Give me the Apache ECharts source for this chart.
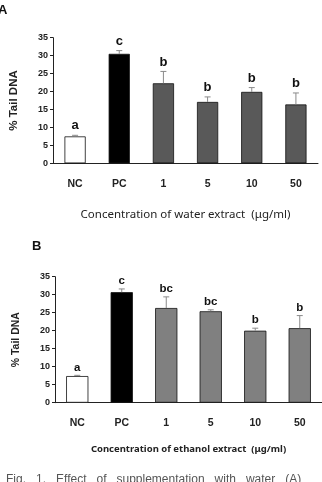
<!DOCTYPE html>
<html>
<head>
<meta charset="utf-8">
<script src="https://cdn.jsdelivr.net/npm/echarts@6/dist/echarts.min.js"></script>
<style>
  html, body { margin: 0; padding: 0; background: #fff; }
  #chart { width: 322px; height: 482px; }
</style>
</head>
<body>
<div id="chart"></div>
<script>
// categories and tick labels
var categories = ['NC', 'PC', '1', '5', '10', '50'];
var yTicks = [0, 5, 10, 15, 20, 25, 30, 35];

// panel A: water extract
var waterMean = [7.5, 30.5, 22.3, 17.1, 19.9, 16.4];
var waterErr = [0.3, 0.9, 3.3, 1.4, 1.2, 3.2];
var waterLetters = ['a', 'c', 'b', 'b', 'b', 'b'];

// panel B: ethanol extract
var ethanolMean = [7.4, 30.7, 26.3, 25.4, 20.0, 20.7];
var ethanolErr = [0.2, 0.9, 3.1, 0.4, 0.7, 3.5];
var ethanolLetters = ['a', 'c', 'bc', 'bc', 'b', 'b'];

var chart = echarts.init(document.getElementById('chart'));

function barColors(restColor) {
  return function (p) {
    if (p.dataIndex === 0) return '#ffffff';
    if (p.dataIndex === 1) return '#000000';
    return restColor;
  };
}

// error bar (upper only) + significance letter
function errRender(mean, err, letters, fontSize, gap) {
  return function (params, api) {
    var i = api.value(0);
    var base = api.coord([i, mean[i]]);
    var top = api.coord([i, mean[i] + err[i]]);
    return {
      type: 'group',
      children: [
        { type: 'line', shape: { x1: base[0], y1: base[1], x2: top[0], y2: top[1] },
          style: { stroke: '#8a8a8a', lineWidth: 1 } },
        { type: 'line', shape: { x1: top[0] - 3, y1: top[1], x2: top[0] + 3, y2: top[1] },
          style: { stroke: '#8a8a8a', lineWidth: 1 } },
        { type: 'text', style: { text: letters[i], x: top[0], y: top[1] - gap,
          align: 'center', verticalAlign: 'bottom', fill: '#111',
          font: 'bold ' + fontSize + 'px "Liberation Sans", Arial, sans-serif' } }
      ]
    };
  };
}

function yAxisCfg(gridIndex, nameGap, nameSize) {
  return {
    gridIndex: gridIndex, type: 'value', min: 0, max: 35, interval: 5,
    name: '% Tail DNA', nameLocation: 'middle', nameGap: nameGap,
    nameTextStyle: { fontFamily: 'Liberation Sans', fontWeight: 'bold', fontSize: nameSize, color: '#222' },
    axisLine: { show: true, lineStyle: { color: '#222', width: 1 } },
    axisTick: { show: true, length: 3, lineStyle: { color: '#222' } },
    axisLabel: { margin: 5, fontFamily: 'Liberation Sans', fontWeight: 'bold', fontSize: 9, color: '#222',
      formatter: function (v) { return yTicks.indexOf(v) >= 0 ? String(v) : ''; } },
    splitLine: { show: false }
  };
}

function xAxisCfg(gridIndex, title, titleBold, titleSize, nameGap) {
  return {
    gridIndex: gridIndex, type: 'category', data: categories,
    name: title, nameLocation: 'middle', nameGap: nameGap,
    nameTextStyle: { fontFamily: 'Noto Sans', fontWeight: titleBold ? 'bold' : 'normal', fontSize: titleSize, color: '#222' },
    axisLine: { lineStyle: { color: '#222', width: 1 } },
    axisTick: { show: false },
    axisLabel: { margin: 15, fontFamily: 'Liberation Sans', fontWeight: 'bold', fontSize: 10.5, color: '#222' }
  };
}

var option = {
  animation: false,
  backgroundColor: '#fff',
  graphic: [
    { type: 'text', left: -2, top: 4, style: { text: 'A', font: 'bold 13px "Liberation Sans", Arial', fill: '#111' } },
    { type: 'text', left: 32, top: 240, style: { text: 'B', font: 'bold 13px "Liberation Sans", Arial', fill: '#111' } },
    { type: 'text', left: 6, top: 474, style: { text: 'Fig.   1.   Effect   of   supplementation   with   water   (A)',
      font: '12px "Liberation Sans", Arial', fill: '#555' } }
  ],
  grid: [
    { left: 44, width: 274, top: 37.7, height: 125.6 },
    { left: 55, width: 270, top: 276.7, height: 126 }
  ],
  xAxis: [
    xAxisCfg(0, 'Concentration of water extract  (\u03bcg/ml)', false, 11.5, 45),
    xAxisCfg(1, 'Concentration of ethanol extract  (\u03bcg/ml)', true, 9.5, 42)
  ],
  yAxis: [yAxisCfg(0, 33, 11.5), yAxisCfg(1, 33, 10.5)],
  series: [
    { type: 'bar', xAxisIndex: 0, yAxisIndex: 0, data: waterMean, barWidth: '48%',
      itemStyle: { color: barColors('#595959'), borderColor: '#111', borderWidth: 0.8 } },
    { type: 'custom', xAxisIndex: 0, yAxisIndex: 0, data: categories.map(function (c, i) { return [i]; }),
      renderItem: errRender(waterMean, waterErr, waterLetters, 13, 3), z: 5 },
    { type: 'bar', xAxisIndex: 1, yAxisIndex: 1, data: ethanolMean, barWidth: '50%',
      itemStyle: { color: barColors('#808080'), borderColor: '#111', borderWidth: 0.8 } },
    { type: 'custom', xAxisIndex: 1, yAxisIndex: 1, data: categories.map(function (c, i) { return [i]; }),
      renderItem: errRender(ethanolMean, ethanolErr, ethanolLetters, 11.5, 2), z: 5 }
  ]
};

chart.setOption(option);
</script>
</body>
</html>
